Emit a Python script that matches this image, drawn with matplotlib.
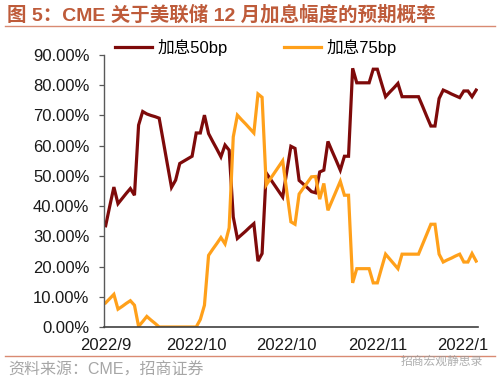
import matplotlib
matplotlib.use("Agg")
import matplotlib.pyplot as plt
from matplotlib.lines import Line2D
from matplotlib.transforms import Bbox

# ---- data (percent) ----
hike_50bp = [33.5, 40.0, 46.3, 40.8, 42.5, 44.2, 45.8, 43.6, 66.8, 71.3,
             70.5, 70.0, 69.6, 69.1, 61.5, 53.8, 46.2, 48.6, 54.1, 54.9,
             55.7, 56.5, 64.2, 64.2, 70.1, 64.0, 61.4, 58.9, 56.3, 60.2,
             58.5, 36.4, 29.3, 30.5, 31.7, 33.0, 34.2, 21.8, 24.3, 51.0,
             49.0, 47.0, 45.0, 43.0, 51.4, 59.8, 59.1, 48.5, 47.3, 46.1,
             44.8, 44.4, 51.3, 51.9, 61.4, 58.2, 55.1, 51.9, 56.5, 56.5,
             85.6, 80.8, 80.8, 80.8, 80.8, 85.3, 85.3, 80.7, 76.2, 77.7,
             79.1, 80.6, 76.2, 76.2, 76.2, 76.2, 76.2, 73.0, 69.7, 66.5,
             66.5, 75.6, 78.4, 77.8, 77.1, 76.5, 75.9, 78.1, 78.1, 76.2,
             78.4]
hike_75bp = [8.0, 9.4, 10.8, 5.9, 6.8, 7.8, 8.7, 7.2, 0.2, 1.8,
             3.5, 2.3, 1.2, 0.0, 0.0, 0.0, 0.0, 0.0, 0.0, 0.0,
             0.0, 0.0, 0.0, 2.5, 7.2, 23.7, 25.7, 27.6, 29.6, 27.5,
             32.8, 62.9, 70.1, 68.6, 67.2, 65.7, 64.2, 77.1, 76.0, 47.0,
             49.0, 51.0, 53.0, 55.0, 44.9, 34.8, 34.0, 44.0, 45.9, 47.8,
             49.7, 49.8, 42.3, 47.5, 38.6, 41.8, 45.0, 48.2, 43.6, 43.6,
             14.6, 19.3, 19.3, 19.3, 19.3, 14.6, 14.6, 19.4, 24.1, 22.5,
             20.9, 19.3, 24.1, 24.1, 24.1, 24.1, 24.1, 27.4, 30.7, 34.0,
             34.0, 24.1, 21.5, 22.2, 22.8, 23.5, 24.1, 21.5, 21.5, 24.3,
             21.8]
tick_positions = [0, 22, 44, 66, 88]
tick_labels = ["2022/9", "2022/10", "2022/10", "2022/11", "2022/12"]
y_ticks = [0, 10, 20, 30, 40, 50, 60, 70, 80, 90]
series_names = ["加息50bp", "加息75bp"]

title_text = "图 5：CME 关于美联储 12 月加息幅度的预期概率"
source_text = "资料来源：CME，招商证券"
watermark_text = "招商宏观静思录"

c50 = "#7E0A0A"
c75 = "#FFA01A"
title_color = "#BE5B3A"
rule_color = "#D98A72"

plt.rcParams["font.family"] = ["Liberation Sans", "Noto Sans CJK SC", "DejaVu Sans"]

W, H = 500, 384
fig = plt.figure(figsize=(5.0, 3.84), dpi=100)
ax = fig.add_axes([104 / W, 1 - 327 / H, (478 - 104) / W, (327 - 55) / H])

x = list(range(len(hike_50bp)))
ax.plot(x, hike_50bp, color=c50, lw=2.3, solid_joinstyle="miter", label=series_names[0])
ax.plot(x, hike_75bp, color=c75, lw=2.3, solid_joinstyle="miter", label=series_names[1])

ax.set_xlim(-0.4, 90.45)
ax.set_ylim(0, 90)
ax.set_yticks(y_ticks)
ax.set_yticklabels([f"{v:.2f}%" for v in y_ticks])
ax.set_xticks(tick_positions)
ax.set_xticklabels(tick_labels)

for s in ["top", "right"]:
    ax.spines[s].set_visible(False)
ax.spines["left"].set_color("#595959")
ax.spines["bottom"].set_color("#404040")
ax.spines["left"].set_linewidth(1.0)
ax.spines["bottom"].set_linewidth(1.2)
ax.tick_params(axis="y", length=3.5, width=0.9, color="#595959", pad=7,
               labelsize=12, labelcolor="#1a1a1a")
ax.tick_params(axis="x", length=0, pad=8, labelsize=12, labelcolor="#1a1a1a")

# clip last x label like the original (chart area ends near the right edge)
clip_bb = Bbox.from_extents(0, 0, 489, H)
for lbl in ax.get_xticklabels():
    lbl.set_clip_box(clip_bb)
    lbl.set_clip_on(True)

# legend
handles = [Line2D([], [], color=c50, lw=2.3), Line2D([], [], color=c75, lw=2.3)]
fig.legend(handles, series_names, loc="center", bbox_to_anchor=(256 / W, 1 - 47 / H),
           ncol=2, frameon=False, fontsize=12, handlelength=2.2, handletextpad=0.35,
           columnspacing=3.4, borderpad=0, borderaxespad=0)

# title and rules
fig.text(7 / W, 1 - 15 / H, title_text, fontsize=14, fontweight="bold",
         color=title_color, ha="left", va="center")
fig.add_artist(Line2D([5 / W, 495 / W], [1 - 26 / H, 1 - 26 / H], color=rule_color, lw=1.0))
fig.add_artist(Line2D([5 / W, 495 / W], [1 - 355.5 / H, 1 - 355.5 / H], color=rule_color, lw=1.0))

fig.text(8 / W, 1 - 370 / H, source_text, fontsize=11.5, color="#A6A6A6",
         ha="left", va="center")
fig.text(483 / W, 1 - 362 / H, watermark_text, fontsize=8.5, color="#9A9A9A",
         ha="right", va="center", alpha=0.8)

fig.savefig("out.png", dpi=100)
